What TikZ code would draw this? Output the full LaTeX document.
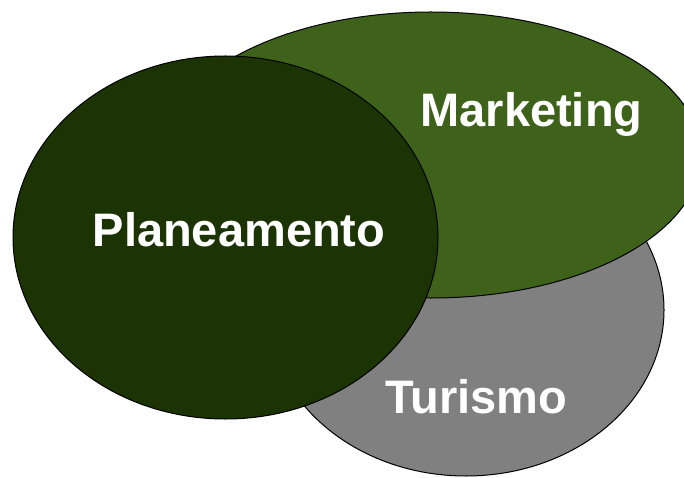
\documentclass[tikz,border=0pt]{standalone}
\usepackage{fontspec}
\setmainfont{Liberation Sans}
\usepackage{xcolor}
\usepackage{tikz}
\definecolor{turgray}{RGB}{128,128,128}
\definecolor{mktgreen}{RGB}{62,98,25}
\definecolor{plangreen}{RGB}{28,51,3}

\begin{document}
\begin{tikzpicture}[x=1pt,y=1pt,
blob/.style={draw=black,line width=1pt},
lbl/.style={anchor=base,text=white,inner sep=0pt,font=\fontsize{47}{56}\selectfont\bfseries}]
\clip(0,0)rectangle(684,477);
\draw[blob,fill=turgray](466,167)ellipse[x radius=198,y radius=166];
\draw[blob,fill=mktgreen](431,322)ellipse[x radius=270,y radius=143];
\draw[blob,fill=plangreen](225.5,239.5)ellipse[x radius=212.5,y radius=181.5];
\node[lbl](plan)at(239,231){Planeamento};
\node[lbl](mkt)at(531.5,350){Marketing};
\node[lbl](tur)at(476,64){Turismo};
\end{tikzpicture}
\end{document}
